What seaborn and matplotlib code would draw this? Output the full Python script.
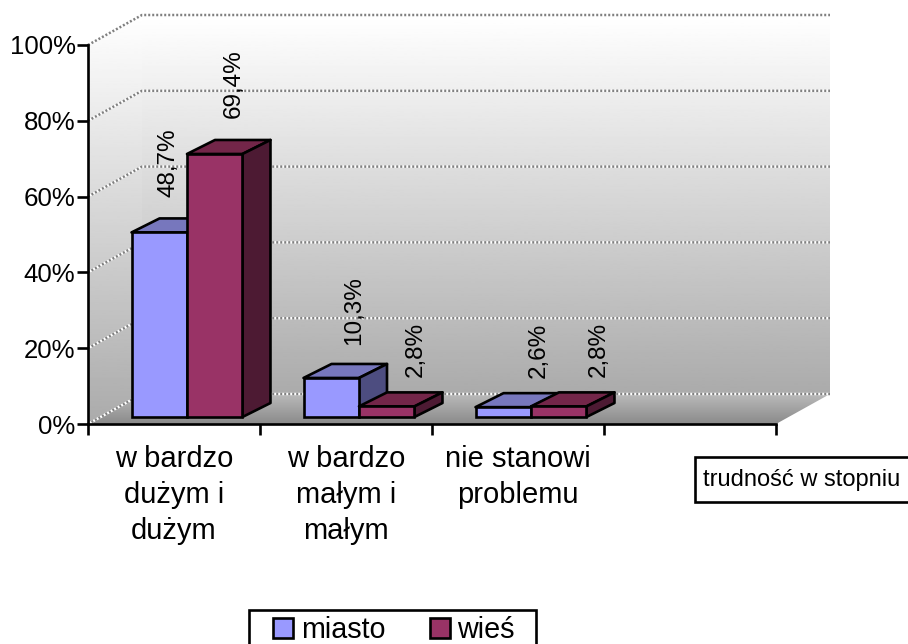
import numpy as np
import pandas as pd
import seaborn as sns
import matplotlib.pyplot as plt
from matplotlib.patches import Polygon, Rectangle
from matplotlib.path import Path
from matplotlib.transforms import Affine2D, IdentityTransform

CATEGORIES = ['w bardzo\ndużym i\ndużym', 'w bardzo\nmałym i\nmałym', 'nie stanowi\nproblemu']
MIASTO = [48.7, 10.3, 2.6]
WIES = [69.4, 2.8, 2.8]
Y_TICKS = [0, 20, 40, 60, 80, 100]
AXIS_NOTE = 'trudność w stopniu'

# face colours: front, top, side
FACES = {
    'miasto': ('#9999FF', '#7777BD', '#4D4D80'),
    'wieś': ('#993366', '#732649', '#4D1A33'),
}
WALL = (54, 30)    # depth of the chart box in pixels
BAR_SHIFT = (13, 7)
BAR_DEPTH = (28, 14)
# the labels drift to the right in the original, pixels from bar centre (x, y)
LABEL_SHIFT = [(9, 35), (19, 36), (23, 33), (29, 29), (35, 29), (40, 29)]

W, H = 908, 644
LW = 1.9


def gradient(bg, polygon, y_top, y_bottom, c_top, c_bottom):
    grad = np.linspace(c_top, c_bottom, 256).reshape(-1, 1)
    im = bg.imshow(grad, cmap='gray', vmin=0, vmax=255, aspect='auto',
                   extent=(0, W, y_bottom, y_top), zorder=1)
    im.set_clip_path(Path(polygon), bg.transData)


def draw_box(bg, ax):
    x0, x1 = ax.transData.transform([(-0.5, 0), (3.5, 0)])[:, 0]
    y0, y100 = ax.transData.transform([(0, 0), (0, 100)])[:, 1]
    dx, dy = WALL

    back = [(x0 + dx, y100 + dy), (x1 + dx, y100 + dy), (x1 + dx, y0 + dy), (x0 + dx, y0 + dy)]
    left = [(x0, y100), (x0 + dx, y100 + dy), (x0 + dx, y0 + dy), (x0, y0)]
    floor = [(x0, y0), (x0 + dx, y0 + dy), (x1 + dx, y0 + dy), (x1, y0)]
    gradient(bg, back, y100 + dy, y0 + dy, 255, 171)
    gradient(bg, left, y100 + dy, y0, 255, 171)
    gradient(bg, floor, y0 + dy, y0, 186, 138)
    bg.set_xlim(0, W)
    bg.set_ylim(0, H)

    for tick in Y_TICKS:
        y = ax.transData.transform((0, tick))[1]
        xs = [x0, x0 + dx, x1 + dx]
        ys = [y, y + dy, y + dy]
        bg.plot(xs, ys, color='white', lw=1.8, zorder=2)
        bg.plot(xs, ys, color='#808080', lw=1.8, ls=(0, (0.8, 0.8)), zorder=3)


def draw_bars(ax):
    sx, sy = BAR_SHIFT
    dx, dy = BAR_DEPTH
    shift = ax.transData + Affine2D().translate(sx, sy)
    bars = [p for p in ax.patches if p.get_height() > 0]
    bars = sorted(bars, key=lambda p: p.get_x())
    names = ['miasto', 'wieś'] * len(CATEGORIES)

    for i, bar in enumerate(bars):
        front, top, side = FACES[names[i]]
        bar.set_transform(shift)
        bar.set_facecolor(front)
        bar.set_edgecolor('black')
        bar.set_linewidth(LW)
        bar.set_zorder(5 + i * 2 + 1)
        bar.set_clip_on(False)

        (xa, ya), (xb, yb) = shift.transform([
            (bar.get_x(), 0), (bar.get_x() + bar.get_width(), bar.get_height())])
        top_pts = [(xa, yb), (xa + dx, yb + dy), (xb + dx, yb + dy), (xb, yb)]
        side_pts = [(xb, ya), (xb + dx, ya + dy), (xb + dx, yb + dy), (xb, yb)]
        for pts, col in ((top_pts, top), (side_pts, side)):
            ax.add_patch(Polygon(pts, closed=True, facecolor=col, edgecolor='black', lw=LW,
                                 joinstyle='round', transform=IdentityTransform(),
                                 zorder=5 + i * 2, clip_on=False))

        value = bar.get_height()
        ox, oy = LABEL_SHIFT[i]
        ax.text((xa + xb) / 2 + ox, yb + oy, f'{value:.1f}%'.replace('.', ','),
                rotation=90, ha='center', va='bottom', fontsize=17.5, color='black',
                transform=IdentityTransform(), zorder=40)


def main():
    sns.set_theme(style='white', rc={'text.color': 'black', 'xtick.color': 'black', 'ytick.color': 'black'})
    plt.rcParams['font.family'] = ['Liberation Sans', 'DejaVu Sans']

    data = pd.DataFrame({
        'kategoria': CATEGORIES * 2,
        'udzial': MIASTO + WIES,
        'miejsce': ['miasto'] * len(MIASTO) + ['wieś'] * len(WIES),
    })

    fig = plt.figure(figsize=(W / 100, H / 100), dpi=100, facecolor='white')
    bg = fig.add_axes([0, 0, 1, 1])
    bg.axis('off')
    ax = fig.add_axes([88 / W, (H - 424) / H, 688 / W, 379 / H])
    ax.patch.set_alpha(0)

    palette = {k: v[0] for k, v in FACES.items()}
    sns.barplot(data=data, x='kategoria', y='udzial', hue='miejsce', order=CATEGORIES + [''],
                palette=palette, width=0.645, gap=0, saturation=1, ax=ax)
    ax.set_xlim(-0.5, 3.5)
    ax.set_ylim(0, 100)
    ax.set_xlabel('')
    ax.set_ylabel('')

    ax.set_yticks(Y_TICKS)
    ax.set_yticklabels([f'{t}%' for t in Y_TICKS], fontsize=18.6)
    ax.set_xticks(np.arange(-0.5, 4))
    ax.set_xticklabels([])
    ax.set_xticks(range(len(CATEGORIES)), CATEGORIES, minor=True, fontsize=21, linespacing=1.36)
    ax.tick_params(axis='both', which='major', length=8, width=LW, color='black', left=True, bottom=True, pad=1)
    ax.tick_params(axis='x', which='minor', length=0, pad=15)
    sns.despine(ax=ax, top=True, right=True)
    for side in ('left', 'bottom'):
        ax.spines[side].set_color('black')
        ax.spines[side].set_linewidth(LW)
        ax.spines[side].set_zorder(4)

    draw_box(bg, ax)
    draw_bars(ax)

    # note box on the right, runs off the picture edge
    bg.add_patch(Rectangle((695, H - 502), 240, 45, facecolor='white', edgecolor='black', lw=LW, zorder=2))
    bg.text(703, H - 480, AXIS_NOTE, fontsize=17, va='center', ha='left', color='black', zorder=3)

    # legend frame is cut by the bottom edge too
    bg.add_patch(Rectangle((249, -20), 287, H - 610 + 20, facecolor='white', edgecolor='black', lw=LW, zorder=2))
    handles, labels = ax.get_legend_handles_labels()
    for handle in handles:
        handle.set_edgecolor('black')
        handle.set_linewidth(LW)
    ax.legend(handles, labels, loc='upper left', bbox_to_anchor=(273, H - 616), bbox_transform=IdentityTransform(),
              ncols=2, frameon=False, fontsize=20.7, borderpad=0, borderaxespad=0, handlelength=0.7,
              handleheight=0.7, handletextpad=0.26, columnspacing=1.55)

    fig.savefig('out.png', dpi=100)


if __name__ == "__main__":
    main()
